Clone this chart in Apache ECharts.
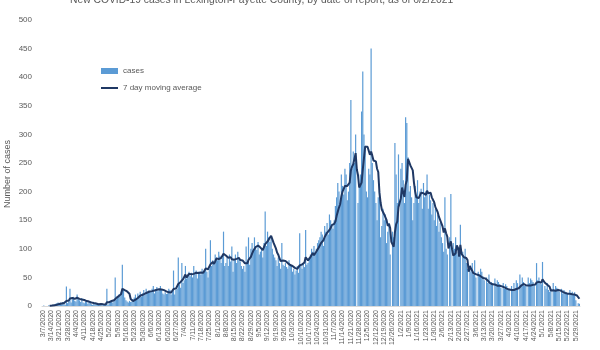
<!DOCTYPE html>
<html>
<head>
<meta charset="utf-8">
<script src="https://cdn.jsdelivr.net/npm/echarts@6/dist/echarts.min.js"></script>
<style>
  html, body { margin: 0; padding: 0; background: #ffffff; }
  #chart { width: 600px; height: 350px; }
</style>
</head>
<body>
<div id="chart"></div>
<script>
// Daily new cases by date of report, starting 3/7/2020 (one row per week)
const firstDay = { year: 2020, month: 3, day: 7 };
const cases = [
  0, 1, 0, 0, 0, 1, 1,
  1, 2, 0, 3, 4, 5, 6,
  4, 6, 3, 7, 6, 2, 34,
  5, 9, 30, 6, 12, 16, 9,
  8, 20, 12, 10, 7, 14, 6,
  5, 8, 10, 4, 7, 6, 3,
  2, 4, 3, 5, 2, 3, 4,
  2, 1, 3, 2, 4, 30, 2,
  5, 8, 10, 6, 9, 50, 12,
  14, 20, 18, 25, 72, 30, 15,
  10, 8, 6, 9, 7, 8, 12,
  15, 20, 14, 22, 18, 25, 16,
  22, 28, 20, 30, 24, 27, 26,
  25, 30, 35, 22, 28, 33, 26,
  30, 35, 28, 22, 20, 24, 21,
  22, 30, 28, 20, 25, 62, 20,
  28, 30, 85, 38, 32, 75, 40,
  45, 70, 48, 55, 60, 52, 58,
  50, 70, 55, 62, 48, 60, 60,
  55, 65, 58, 62, 100, 60, 50,
  65, 115, 70, 80, 75, 90, 85,
  80, 95, 88, 75, 85, 130, 70,
  75, 85, 70, 90, 78, 104, 60,
  80, 90, 75, 95, 85, 78, 70,
  65, 70, 60, 104, 75, 120, 72,
  100, 110, 95, 120, 105, 98, 112,
  90, 95, 100, 85, 110, 165, 105,
  130, 120, 112, 118, 100, 90, 85,
  80, 70, 85, 75, 65, 110, 72,
  70, 75, 68, 65, 80, 72, 70,
  60, 65, 55, 62, 70, 58, 127,
  70, 65, 75, 68, 133, 72, 75,
  85, 90, 100, 95, 105, 92, 100,
  110, 115, 120, 130, 125, 105, 140,
  130, 145, 125, 160, 150, 140, 135,
  150, 175, 190, 215, 200, 180, 230,
  210, 195, 240, 230, 185, 200, 250,
  360, 240, 270, 250, 300, 0, 180,
  210, 230, 340, 410, 300, 280, 200,
  190, 240, 230, 450, 250, 220, 200,
  180, 150, 190, 200, 120, 140, 170,
  150, 160, 110, 130, 145, 90, 0,
  130, 120, 285, 230, 180, 265, 0,
  240, 250, 220, 180, 330, 320, 260,
  200, 210, 190, 150, 180, 210, 190,
  220, 180, 200, 205, 170, 215, 190,
  200, 230, 170, 195, 185, 160, 180,
  150, 170, 140, 160, 130, 145, 120,
  110, 95, 190, 100, 90, 0, 120,
  196, 0, 110, 100, 120, 95, 90,
  90, 142, 0, 95, 85, 100, 75,
  65, 0, 70, 60, 75, 55, 80,
  50, 0, 60, 55, 65, 60, 52,
  45, 0, 50, 40, 55, 38, 42,
  40, 0, 48, 35, 45, 42, 38,
  32, 0, 40, 30, 38, 35, 28,
  30, 0, 35, 28, 40, 30, 45,
  40, 0, 55, 38, 50, 42, 35,
  35, 0, 50, 40, 48, 45, 42,
  38, 0, 75, 45, 50, 40, 38,
  77, 0, 35, 30, 40, 28, 25,
  30, 0, 40, 28, 35, 32, 30,
  25, 0, 30, 22, 28, 25, 24,
  22, 0, 28, 20, 25, 21, 24,
  10, 0, 5, 4
];

const titleText = 'New COVID-19 cases in Lexington-Fayette County, by date of report, as of 6/2/2021';
const seriesNames = ['cases', '7 day moving average'];
const yAxisName = 'Number of cases';
const windowDays = 7;

// Category labels m/d/yyyy, one per reported day
const dates = cases.map((_, i) => {
  const d = new Date(Date.UTC(firstDay.year, firstDay.month - 1, firstDay.day + i));
  return (d.getUTCMonth() + 1) + '/' + d.getUTCDate() + '/' + d.getUTCFullYear();
});

// Trailing 7-day mean of the daily counts
const movingAverage = cases.map((_, i) => {
  if (i < windowDays - 1) return null;
  let sum = 0;
  for (let k = i - windowDays + 1; k <= i; k++) sum += cases[k];
  return +(sum / windowDays).toFixed(2);
});

const grey = '#595959';
const font = 'Liberation Sans';
const navy = '#1f3864';

const chart = echarts.init(document.getElementById('chart'));
chart.setOption({
  animation: false,
  textStyle: { fontFamily: font },
  title: {
    text: titleText,
    left: 65,
    top: -10,
    textStyle: { fontSize: 10.3, fontWeight: 'normal', color: grey, fontFamily: font }
  },
  legend: {
    orient: 'vertical',
    left: 96,
    top: 62,
    itemWidth: 17,
    itemHeight: 6,
    itemGap: 9,
    textStyle: { fontSize: 8, color: grey, fontFamily: font },
    data: [
      { name: seriesNames[0], icon: 'rect' },
      { name: seriesNames[1], icon: 'path://M0,0H17V2H0Z' }
    ]
  },
  grid: { left: 42, right: 20, top: 20, bottom: 44 },
  xAxis: {
    type: 'category',
    data: dates,
    boundaryGap: true,
    axisLine: { lineStyle: { color: '#d9d9d9', width: 1 } },
    axisTick: { show: false },
    axisLabel: { interval: 6, rotate: 90, fontSize: 7, color: grey, margin: 4, fontFamily: font }
  },
  yAxis: {
    type: 'value',
    min: 0,
    max: 500,
    interval: 50,
    axisLine: { show: false },
    axisTick: { show: false },
    splitLine: { show: false },
    axisLabel: { fontSize: 8, color: grey, margin: 10, fontFamily: font }
  },
  graphic: [{
    type: 'text',
    left: 3,
    top: 140,
    rotation: Math.PI / 2,
    style: { text: yAxisName, fontSize: 9, fill: grey, fontFamily: font }
  }],
  series: [
    {
      name: seriesNames[0],
      type: 'bar',
      data: cases,
      barCategoryGap: '0%',
      itemStyle: { color: '#5b9bd5' }
    },
    {
      name: seriesNames[1],
      type: 'line',
      data: movingAverage,
      symbol: 'none',
      connectNulls: false,
      lineStyle: { color: navy, width: 2 },
      itemStyle: { color: navy }
    }
  ]
});
</script>
</body>
</html>
